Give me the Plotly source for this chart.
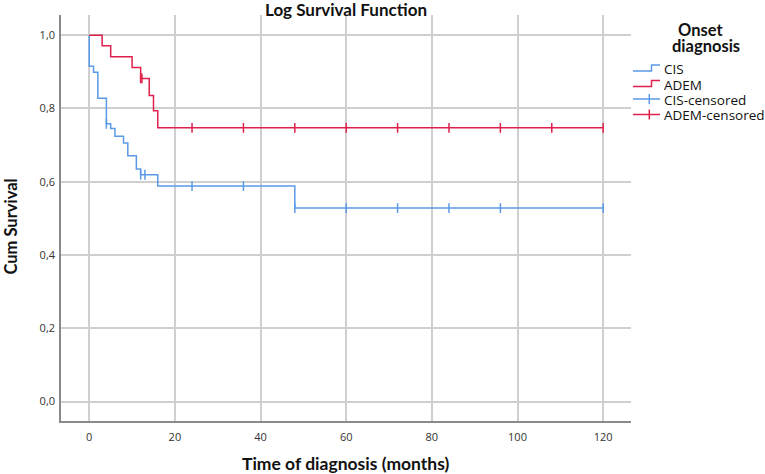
import plotly.graph_objects as go

# Survival step data (months, cumulative survival)
cis_t = [0, 0, 1, 2, 4, 5, 6, 8, 9, 11, 12, 16, 48, 120]
cis_s = [1.0, 0.915, 0.899, 0.828, 0.758, 0.745, 0.724, 0.706, 0.671, 0.635, 0.619, 0.588, 0.528, 0.528]

adem_t = [0, 3, 5, 10, 12, 14, 15, 16, 120]
adem_s = [1.0, 0.971, 0.941, 0.912, 0.882, 0.835, 0.794, 0.747, 0.747]

# Censored observations
cis_cens_t = [4, 12, 13, 24, 36, 48, 60, 72, 84, 96, 120]
cis_cens_s = [0.758, 0.619, 0.619, 0.588, 0.588, 0.528, 0.528, 0.528, 0.528, 0.528, 0.528]

adem_cens_t = [12, 12.3, 24, 36, 48, 60, 72, 84, 96, 108, 120]
adem_cens_s = [0.882, 0.882, 0.747, 0.747, 0.747, 0.747, 0.747, 0.747, 0.747, 0.747, 0.747]

x_ticks = [0, 20, 40, 60, 80, 100, 120]
y_ticks = [0.0, 0.2, 0.4, 0.6, 0.8, 1.0]
y_ticktext = ["0,0", "0,2", "0,4", "0,6", "0,8", "1,0"]

legend_names = ["CIS", "ADEM", "CIS-censored", "ADEM-censored"]

BLUE = "#5b9ae6"
RED = "#e0204c"
W, H = 765, 474
L, R, T, B = 61, 631, 15, 421  # plot area in pixels


def px(x):
    return (x - L) / (R - L)


def py(y):
    return (B - y) / (B - T)


fig = go.Figure()

fig.add_trace(go.Scatter(x=cis_t, y=cis_s, mode="lines", line=dict(color=BLUE, width=1.5, shape="hv"),
                         name=legend_names[0], showlegend=False))
fig.add_trace(go.Scatter(x=adem_t, y=adem_s, mode="lines", line=dict(color=RED, width=1.5, shape="hv"),
                         name=legend_names[1], showlegend=False))
fig.add_trace(go.Scatter(x=cis_cens_t, y=cis_cens_s, mode="markers",
                         marker=dict(symbol="line-ns-open", size=7, color=BLUE, line=dict(color=BLUE, width=1.5)),
                         showlegend=False, name=legend_names[2]))
fig.add_trace(go.Scatter(x=adem_cens_t, y=adem_cens_s, mode="markers",
                         marker=dict(symbol="line-ns-open", size=7, color=RED, line=dict(color=RED, width=1.5)),
                         showlegend=False, name=legend_names[3]))

annotations = [
    dict(text="<b>Log Survival Function</b>", x=px((L + R) / 2), y=py(10), font=dict(family="Lato", size=17, color="#111")),
    dict(text="<b>Time of diagnosis (months)</b>", x=px(346), y=py(463), font=dict(family="Lato", size=17.5, color="#111")),
    dict(text="<b>Cum Survival</b>", x=px(10.5), y=py(227), textangle=-90, font=dict(family="Lato", size=16.5, color="#111")),
    dict(text="<b>Onset</b>", x=px(700), y=py(30), font=dict(family="Lato", size=16.5, color="#111")),
    dict(text="<b>diagnosis</b>", x=px(705.5), y=py(45.5), font=dict(family="Lato", size=16.5, color="#111")),
]
item_y = [69, 84.5, 100, 115.5]
for name, yy in zip(legend_names, item_y):
    annotations.append(dict(text=name, x=px(662), y=py(yy), xanchor="left",
                            font=dict(family="Open Sans", size=13.5, color="#111")))
for a in annotations:
    a.update(xref="paper", yref="paper", showarrow=False)
    a.setdefault("xanchor", "center")
    a.setdefault("yanchor", "middle")

shapes = []
# step symbols
for yy, col in [(item_y[0], BLUE), (item_y[1], RED)]:
    lo, hi = yy + 2, yy - 4
    shapes.append(dict(type="path", xref="paper", yref="paper",
                       path=f"M {px(633)},{py(lo)} L {px(651.5)},{py(lo)} L {px(651.5)},{py(hi)} L {px(660)},{py(hi)}",
                       line=dict(color=col, width=1.5)))
# cross symbols
for yy, col in [(item_y[2], BLUE), (item_y[3], RED)]:
    shapes.append(dict(type="line", xref="paper", yref="paper", x0=px(633), x1=px(660), y0=py(yy - 1), y1=py(yy - 1),
                       line=dict(color=col, width=1.5)))
    shapes.append(dict(type="line", xref="paper", yref="paper", x0=px(649.3), x1=px(649.3), y0=py(yy - 6), y1=py(yy + 4),
                       line=dict(color=col, width=1.5)))

fig.update_layout(
    width=W, height=H,
    margin=dict(l=L, r=W - R, t=T, b=H - B, autoexpand=False),
    paper_bgcolor="white", plot_bgcolor="white",
    showlegend=False,
    font=dict(family="Open Sans", color="#333"),
    annotations=annotations,
    shapes=shapes,
)

fig.update_xaxes(range=[-6.6, 126.5], tickvals=x_ticks, ticktext=[str(v) for v in x_ticks],
                 showgrid=True, gridcolor="#cfcfcf", gridwidth=1.5, automargin=False,
                 showline=True, linecolor="#8a8a8a", linewidth=1.5, zeroline=False,
                 ticks="outside", ticklen=5, tickcolor="rgba(0,0,0,0)",
                 tickfont=dict(family="Open Sans", size=11, color="#333"))
fig.update_yaxes(range=[-0.053, 1.055], tickvals=y_ticks, ticktext=y_ticktext,
                 showgrid=True, gridcolor="#cfcfcf", gridwidth=1.5, automargin=False,
                 showline=True, linecolor="#8a8a8a", linewidth=1.5, zeroline=False,
                 ticks="outside", ticklen=2, tickcolor="rgba(0,0,0,0)",
                 tickfont=dict(family="Open Sans", size=11, color="#333"))

fig.write_html("out.html", config={"displayModeBar": False},
               post_script="document.body.style.margin='0';")
